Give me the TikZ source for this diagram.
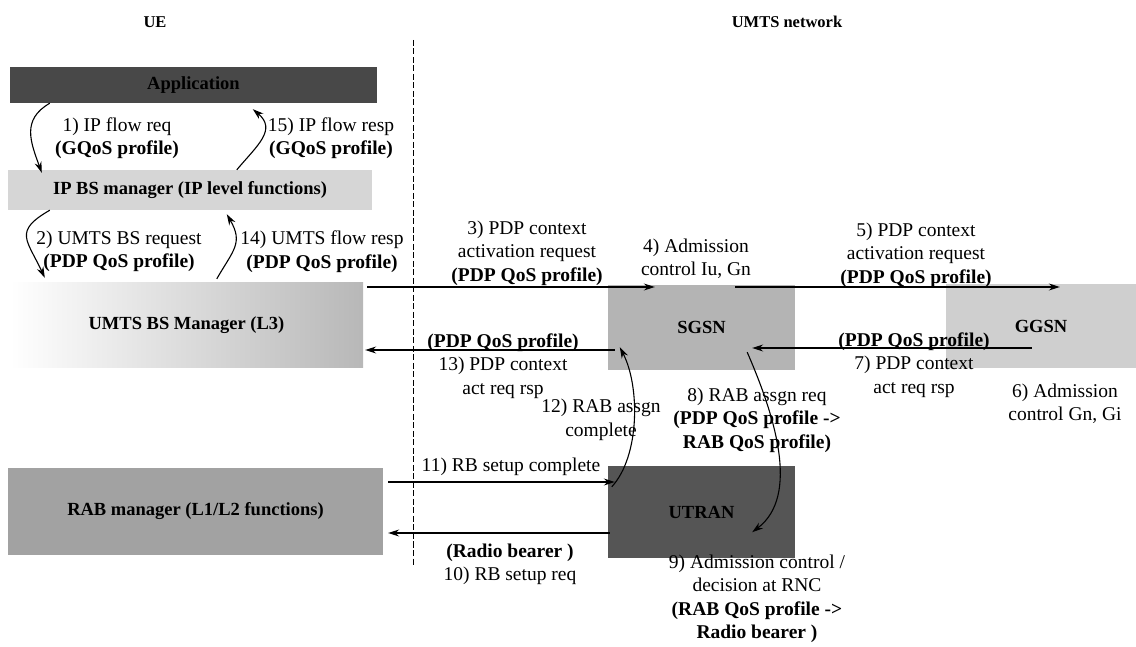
\documentclass[tikz,border=0pt]{standalone}
\usepackage{fontspec}
\setmainfont{Liberation Serif}
\usetikzlibrary{arrows.meta,calc}
\definecolor{AppGray}{HTML}{484848}
\definecolor{IpGray}{HTML}{D6D6D6}
\definecolor{RabGray}{HTML}{A2A2A2}
\definecolor{SgsnGray}{HTML}{B4B4B4}
\definecolor{GgsnGray}{HTML}{CFCFCF}
\definecolor{UtranGray}{HTML}{555555}

\begin{document}
\begin{tikzpicture}[x=1pt, y=1pt, >={Stealth[length=11pt,width=7pt]},
   box/.style={inner sep=0pt, text=black, font=\fontsize{18.5}{22}\selectfont\bfseries},
   lbl/.style={inner sep=0pt, align=center, font=\fontsize{19.5}{23.5}\selectfont},
   head/.style={inner sep=0pt, font=\fontsize{16.5}{20}\selectfont\bfseries},
   msg/.style={->, line width=1.1pt}]
  \useasboundingbox (0,0) rectangle (1136,646);

  % UE side
  \node[box, fill=AppGray, minimum width=367pt, minimum height=36pt]   (app)  at (193.5,561) {Application};
  \node[box, fill=IpGray, minimum width=364pt, minimum height=40pt]    (ipbs) at (190,456)   {IP BS manager (IP level functions)};
  \node[box, left color=white, right color=black!28,
        minimum width=353pt, minimum height=85pt]                      (umts) at (186.5,320.5) {UMTS BS Manager (L3)};
  \node[box, fill=RabGray, minimum width=375pt, minimum height=87pt]   (rab)  at (195.5,134.5) {RAB manager (L1/L2 functions)};

  % network side
  \node[box, fill=SgsnGray, minimum width=187pt, minimum height=85pt]  (sgsn)  at (701.5,318.5) {SGSN};
  \node[box, fill=GgsnGray, minimum width=190pt, minimum height=84pt]  (ggsn)  at (1041,320)    {GGSN};
  \node[box, fill=UtranGray, minimum width=187pt, minimum height=92pt] (utran) at (701.5,134)   {UTRAN};

  \node[head] (ue)  at (155,624) {UE};
  \node[head] (net) at (787,624) {UMTS network};

  \coordinate (divtop) at (413,606);
  \coordinate (divbot) at (413,81);
  \draw[line width=0.9pt, dash pattern=on 6pt off 2.5pt] (divtop) -- (divbot);

  % inside the UE
  \draw[msg] ($(app.south west)+(40,0)$) to[out=210,in=110,looseness=1.2] ($(ipbs.north west)+(34,-3)$);
  \draw[msg] ($(ipbs.north west)+(229,0)$) to[out=50,in=-40,looseness=1.3] ($(app.south west)+(243,-6)$);
  \draw[msg] ($(ipbs.south west)+(42,0)$) to[out=210,in=115,looseness=1.6] ($(umts.north west)+(35,5)$);
  \draw[msg] ($(umts.north west)+(207,4)$) to[out=60,in=-60,looseness=1.3] ($(ipbs.south west)+(219,-4)$);

  % PDP context
  \draw[msg] ($(umts.east)+(4,38.5)$) -- ($(sgsn.west)+(47,40.5)$);
  \draw[msg] ($(sgsn.east)+(-60,40.5)$) -- ($(ggsn.west)+(114,39)$);
  \draw[msg] ($(ggsn.west)+(86,-22)$) -- ($(sgsn.east)+(-43,-20.5)$);
  \draw[msg] ($(sgsn.west)+(7,-22.5)$) -- ($(umts.east)+(2,-24.5)$);

  % RAB and radio bearer
  \draw[msg] ($(sgsn.south east)+(-48,18)$) .. controls (775,230) and (800,150) .. ($(utran.south east)+(-43,26)$);
  \draw[msg] ($(utran.north west)+(4,-21)$) .. controls (640,190) and (640,260) .. ($(sgsn.south west)+(12,23)$);
  \draw[msg] ($(rab.east)+(5,29.5)$) -- ($(utran.west)+(7,30)$);
  \draw[msg] ($(utran.west)+(2,-21)$) -- ($(rab.east)+(5,-21.5)$);

  \node[lbl] (l1)  at (117,508)   {1) IP flow req\\\textbf{(GQoS profile)}};
  \node[lbl] (l15) at (331,508)   {15) IP flow resp\\\textbf{(GQoS profile)}};
  \node[lbl] (l2)  at (119,394.5) {2) UMTS BS request\\\textbf{(PDP QoS profile)}};
  \node[lbl] (l14) at (322,394.5) {14) UMTS flow resp\\\textbf{(PDP QoS profile)}};
  \node[lbl] (l3)  at (527,393)   {3) PDP context\\activation request\\\textbf{(PDP QoS profile)}};
  \node[lbl] (l4)  at (696,387.5) {4) Admission\\control Iu, Gn};
  \node[lbl] (l5)  at (916,391)   {5) PDP context\\activation request\\\textbf{(PDP QoS profile)}};
  \node[lbl] (l7)  at (914,281)   {\textbf{(PDP QoS profile)}\\7) PDP context\\act req rsp};
  \node[lbl] (l6)  at (1065,242.5) {6) Admission\\control Gn, Gi};
  \node[lbl] (l13) at (503,280)   {\textbf{(PDP QoS profile)}\\13) PDP context\\act req rsp};
  \node[lbl] (l12) at (601,226)   {12) RAB assgn\\complete};
  \node[lbl] (l8)  at (757,226)   {8) RAB assgn req\\\textbf{(PDP QoS profile ->}\\\textbf{RAB QoS profile)}};
  \node[lbl] (l11) at (511,179)   {11) RB setup complete};
  \node[lbl] (l10) at (510,81.5)  {\textbf{(Radio bearer )}\\10) RB setup req};
  \node[lbl] (l9)  at (757,47)    {9) Admission control /\\decision at RNC\\\textbf{(RAB QoS profile ->}\\\textbf{Radio bearer )}};
\end{tikzpicture}
\end{document}
